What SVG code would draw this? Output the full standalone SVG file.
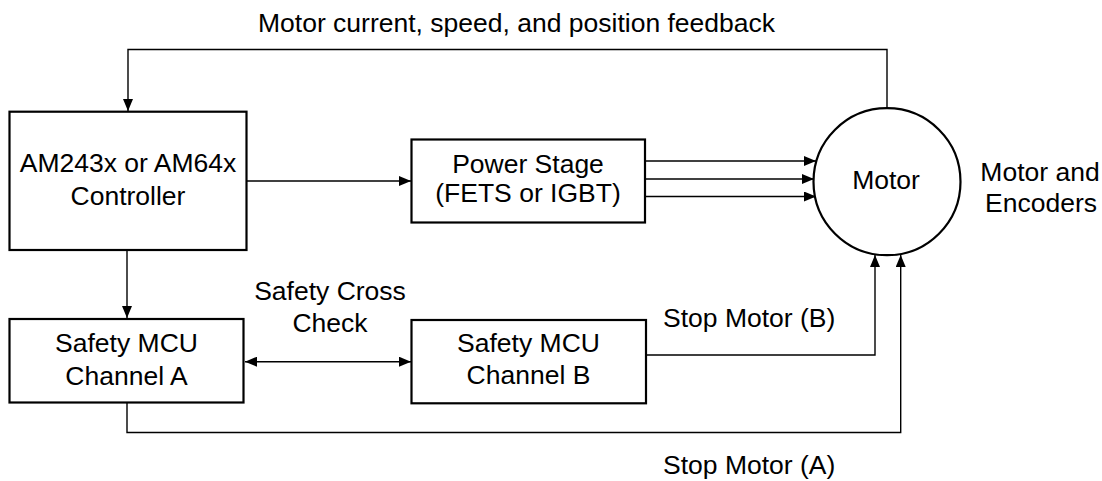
<svg xmlns="http://www.w3.org/2000/svg" width="1102" height="481" viewBox="0 0 1102 481">
<style>
.box{fill:#fff;stroke:#000;stroke-width:2.2}
.ln{fill:none;stroke:#000;stroke-width:1.4}
text{font-family:"Liberation Sans",Arial,sans-serif;font-size:26.5px;fill:#000}
.c{text-anchor:middle}
</style>
<defs>
<marker id="ah" viewBox="0 0 12 10" refX="12" refY="5" markerWidth="12" markerHeight="10" markerUnits="userSpaceOnUse" orient="auto-start-reverse">
<path d="M0,0 L12,5 L0,10 Z" fill="#000"/>
</marker>
</defs>
<rect width="1102" height="481" fill="#fff"/>
<g id="connectors">
<path class="ln" d="M887,108.5 V49.5 H128 V111" marker-end="url(#ah)"/>
<path class="ln" d="M247,181 H411" marker-end="url(#ah)"/>
<path class="ln" d="M645,161 H816" marker-end="url(#ah)"/>
<path class="ln" d="M645,179 H814" marker-end="url(#ah)"/>
<path class="ln" d="M645,196.5 H816" marker-end="url(#ah)"/>
<path class="ln" d="M127,250 V318" marker-end="url(#ah)"/>
<path class="ln" d="M245,361.7 H411" marker-start="url(#ah)" marker-end="url(#ah)"/>
<path class="ln" d="M646,355 H875 V255" marker-end="url(#ah)"/>
<path class="ln" d="M127,403 V432.5 H900.7 V255" marker-end="url(#ah)"/>
</g>
<g id="controller">
<rect class="box" x="9.5" y="111.7" width="237" height="138.3"/>
<text class="c" x="128" y="172">AM243x or AM64x</text>
<text class="c" x="128" y="205">Controller</text>
</g>
<g id="power">
<rect class="box" x="411.5" y="139.5" width="233.5" height="83"/>
<text class="c" x="528" y="172.5">Power Stage</text>
<text class="c" x="528" y="202">(FETS or IGBT)</text>
</g>
<g id="motor">
<circle cx="887" cy="181.7" r="73.5" fill="#fff" stroke="#000" stroke-width="2.2"/>
<text class="c" x="886" y="188.5">Motor</text>
</g>
<g id="motor-label">
<text class="c" x="1040" y="181">Motor and</text>
<text class="c" x="1041" y="212">Encoders</text>
</g>
<g id="safetyA">
<rect class="box" x="9.5" y="319" width="234" height="83.5"/>
<text class="c" x="126.5" y="352">Safety MCU</text>
<text class="c" x="126.5" y="385">Channel A</text>
</g>
<g id="safetyB">
<rect class="box" x="411.5" y="320" width="234.5" height="83.3"/>
<text class="c" x="528.5" y="352">Safety MCU</text>
<text class="c" x="528.5" y="384">Channel B</text>
</g>
<g id="labels">
<text x="258" y="32">Motor current, speed, and position feedback</text>
<text class="c" x="330" y="299.5">Safety Cross</text>
<text class="c" x="330" y="331.5">Check</text>
<text x="663" y="327">Stop Motor (B)</text>
<text x="663" y="474">Stop Motor (A)</text>
</g>
</svg>
